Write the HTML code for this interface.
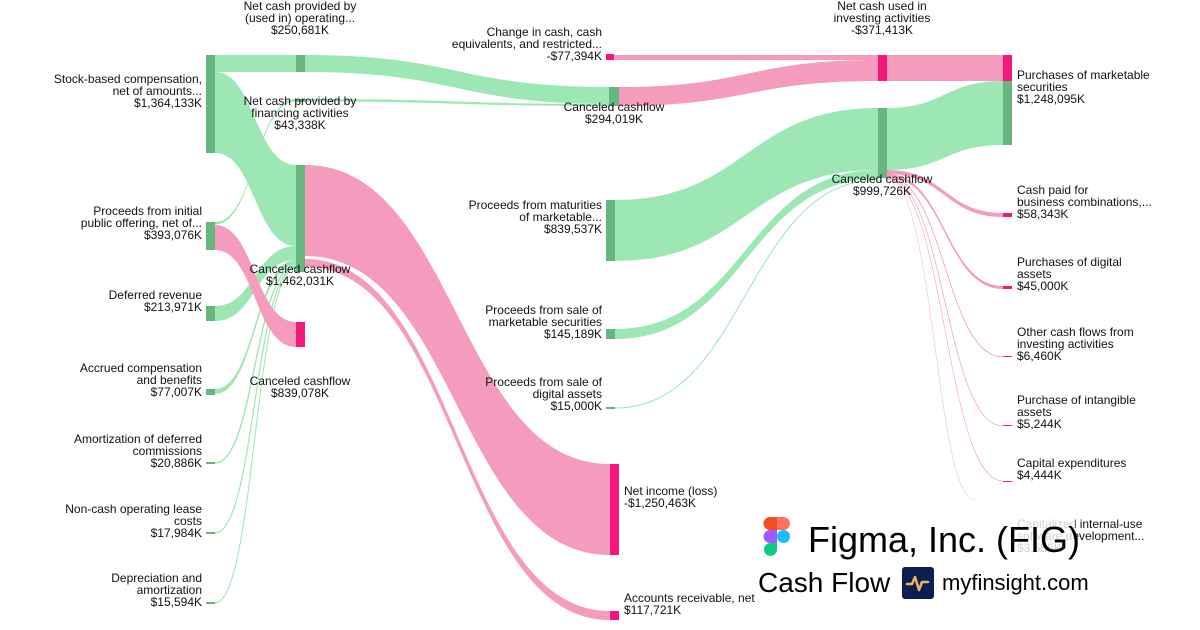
<!DOCTYPE html>
<html><head><meta charset="utf-8"><style>
body{margin:0;width:1200px;height:630px;background:#fff;overflow:hidden}
svg{display:block}
text{font-family:"Liberation Sans",sans-serif;font-size:12px;fill:#111}
.r{text-anchor:end}.m{text-anchor:middle}
</style></head><body>
<svg width="1200" height="630" viewBox="0 0 1200 630">
<g fill="#9ce7b4" stroke="none">
<path d="M215 55 L296 55 L296 72 L215 72Z"/>
<path d="M305 55 C457 55 457 87 609 87 L609 104 C457 104 457 72 305 72Z"/>
<path d="M215 72 C255 72 255 165 296 165 L296 246 C255 246 255 153 215 153Z"/>
<path d="M215 222 C255 222 255 99 296 99 L296 101.5 C255 101.5 255 224.5 215 224.5Z"/>
<path d="M305 99 C457 99 457 104 609 104 L609 106 C457 106 457 101.5 305 101.5Z"/>
<path d="M215 306 C255 306 255 246 296 246 L296 260 C255 260 255 321 215 321Z"/>
<path d="M215 389 C255 389 255 260 296 260 L296 265 C255 265 255 394 215 394Z"/>
<path d="M615 200 C746 200 746 108 878 108 L878 170 C746 170 746 261 615 261Z"/>
<path d="M615 329 C746 329 746 170 878 170 L878 179 C746 179 746 339 615 339Z"/>
<path d="M887 108 C945 108 945 81 1003 81 L1003 145 C945 145 945 170 887 170Z"/>
</g>
<g fill="none" stroke="#9ce7b4">
<path d="M215 463 C255 463 255 266 296 266" stroke-width="1.4"/>
<path d="M215 533 C255 533 255 267 296 267" stroke-width="1.2"/>
<path d="M215 603 C255 603 255 268 296 268" stroke-width="1"/>
<path d="M615 408 C746 408 746 180 878 180" stroke-width="1"/>
</g>
<g fill="#f49bbe">
<path d="M215 225 C255 225 255 322 296 322 L296 347 C255 347 255 250 215 250Z"/>
<path d="M305 165 C457 165 457 464 610 464 L610 555 C457 555 457 256 305 256Z"/>
<path d="M305 259 C457 259 457 611 610 611 L610 620 C457 620 457 267 305 267Z"/>
<path d="M614 55 L878 55 L878 60 L614 60Z"/>
<path d="M619 87 C748 87 748 60 878 60 L878 81 C748 81 748 106 619 106Z"/>
<path d="M887 55 L1003 55 L1003 81 L887 81Z"/>
<path d="M887 170 C945 170 945 213 1003 213 L1003 217 C945 217 945 174 887 174Z"/>
<path d="M887 174 C945 174 945 286 1003 286 L1003 289 C945 289 945 177 887 177Z"/>
</g>
<g fill="none" stroke="#f49bbe">
<path d="M887 177 C945 177 945 357 1003 357" stroke-width="0.8"/>
<path d="M887 178 C945 178 945 426 1003 426" stroke-width="0.7"/>
<path d="M887 179 C945 179 945 481 1003 481" stroke-width="0.6"/>
<path d="M887 179.5 C935 179.5 935 500 975 500" stroke-width="0.4"/>
</g>
<g fill="#66b67e">
<rect x="206" y="55" width="9" height="98"/>
<rect x="206" y="222" width="9" height="28"/>
<rect x="206" y="306" width="9" height="15"/>
<rect x="206" y="389" width="9" height="6"/>
<rect x="206" y="462" width="9" height="2"/>
<rect x="206" y="532" width="9" height="2"/>
<rect x="206" y="602" width="9" height="2"/>
<rect x="296" y="55" width="9" height="17"/>
<rect x="296" y="99" width="9" height="3"/>
<rect x="296" y="165" width="9" height="107"/>
<rect x="609" y="87" width="10" height="19"/>
<rect x="606" y="200" width="9" height="61"/>
<rect x="606" y="329" width="9" height="10"/>
<rect x="606" y="407" width="9" height="2"/>
<rect x="878" y="108" width="9" height="70"/>
<rect x="1003" y="81" width="9" height="64"/>
</g>
<g fill="#f5187a">
<rect x="296" y="322" width="9" height="25"/>
<rect x="606" y="54" width="8" height="6"/>
<rect x="610" y="464" width="9" height="91"/>
<rect x="610" y="611" width="9" height="9"/>
<rect x="878" y="55" width="9" height="26"/>
<rect x="1003" y="55" width="9" height="26"/>
<rect x="1003" y="213" width="9" height="4"/>
<rect x="1003" y="286" width="9" height="3"/>
<rect x="1003" y="356" width="9" height="1"/>
<rect x="1003" y="425" width="9" height="1"/>
<rect x="1003" y="481" width="9" height="1"/>
</g>
<g class="r">
<text x="202" y="83">Stock-based compensation,</text><text x="202" y="95">net of amounts...</text><text x="202" y="107">$1,364,133K</text>
<text x="202" y="215">Proceeds from initial</text><text x="202" y="227">public offering, net of...</text><text x="202" y="239">$393,076K</text>
<text x="202" y="299">Deferred revenue</text><text x="202" y="311">$213,971K</text>
<text x="202" y="372">Accrued compensation</text><text x="202" y="384">and benefits</text><text x="202" y="396">$77,007K</text>
<text x="202" y="443">Amortization of deferred</text><text x="202" y="455">commissions</text><text x="202" y="467">$20,886K</text>
<text x="202" y="513">Non-cash operating lease</text><text x="202" y="525">costs</text><text x="202" y="537">$17,984K</text>
<text x="202" y="582">Depreciation and</text><text x="202" y="594">amortization</text><text x="202" y="606">$15,594K</text>
<text x="602" y="36">Change in cash, cash</text><text x="602" y="48">equivalents, and restricted...</text><text x="602" y="60">-$77,394K</text>
<text x="602" y="209">Proceeds from maturities</text><text x="602" y="221">of marketable...</text><text x="602" y="233">$839,537K</text>
<text x="602" y="314">Proceeds from sale of</text><text x="602" y="326">marketable securities</text><text x="602" y="338">$145,189K</text>
<text x="602" y="386">Proceeds from sale of</text><text x="602" y="398">digital assets</text><text x="602" y="410">$15,000K</text>
</g>
<g class="m">
<text x="300" y="10">Net cash provided by</text><text x="300" y="22">(used in) operating...</text><text x="300" y="34">$250,681K</text>
<text x="300" y="105">Net cash provided by</text><text x="300" y="117">financing activities</text><text x="300" y="129">$43,338K</text>
<text x="300" y="273">Canceled cashflow</text><text x="300" y="285">$1,462,031K</text>
<text x="300" y="385">Canceled cashflow</text><text x="300" y="397">$839,078K</text>
<text x="614" y="111">Canceled cashflow</text><text x="614" y="123">$294,019K</text>
<text x="882" y="10">Net cash used in</text><text x="882" y="22">investing activities</text><text x="882" y="34">-$371,413K</text>
<text x="882" y="183">Canceled cashflow</text><text x="882" y="195">$999,726K</text>
</g>
<g>
<text x="624" y="495">Net income (loss)</text><text x="624" y="507">-$1,250,463K</text>
<text x="624" y="602">Accounts receivable, net</text><text x="624" y="614">$117,721K</text>
<text x="1017" y="79">Purchases of marketable</text><text x="1017" y="91">securities</text><text x="1017" y="103">$1,248,095K</text>
<text x="1017" y="194">Cash paid for</text><text x="1017" y="206">business combinations,...</text><text x="1017" y="218">$58,343K</text>
<text x="1017" y="266">Purchases of digital</text><text x="1017" y="278">assets</text><text x="1017" y="290">$45,000K</text>
<text x="1017" y="336">Other cash flows from</text><text x="1017" y="348">investing activities</text><text x="1017" y="360">$6,460K</text>
<text x="1017" y="404">Purchase of intangible</text><text x="1017" y="416">assets</text><text x="1017" y="428">$5,244K</text>
<text x="1017" y="467">Capital expenditures</text><text x="1017" y="479">$4,444K</text>
<text x="1017" y="528">Capitalized internal-use</text><text x="1017" y="540">software development...</text><text x="1017" y="552">$3,555K</text>
</g>
<rect x="800" y="515" width="275" height="40" fill="#fff" opacity="0.8"/>
<rect x="756" y="563" width="90" height="34" fill="#fff" opacity="0.8"/>
<g>
<path d="M770 517 h7 v13 h-7 a6.5 6.5 0 0 1 0 -13Z" fill="#f24e1e"/>
<path d="M777 517 h6.5 a6.5 6.5 0 0 1 0 13 h-6.5Z" fill="#ff7262"/>
<path d="M770 530 h7 v13 h-7 a6.5 6.5 0 0 1 0 -13Z" fill="#a259ff"/>
<circle cx="783.5" cy="536.5" r="6.5" fill="#1abcfe"/>
<path d="M770 543 h7 v6.5 a6.5 6.5 0 1 1 -7 -6.5Z" fill="#0acf83"/>
</g>
<text x="808" y="552" style="font-size:36px;fill:#000">Figma, Inc. (FIG)</text>
<text x="758" y="592" style="font-size:28px;fill:#000">Cash Flow</text>
<rect x="902" y="567" width="32" height="32" rx="3" fill="#0d1f4f"/>
<path d="M907 584 h5 l3 -7 l4 13 l3 -8 h6" fill="none" stroke="#e8b664" stroke-width="2.5" stroke-linejoin="round" stroke-linecap="round"/>
<text x="942" y="590" style="font-size:22px;fill:#000">myfinsight.com</text>
</svg>
</body></html>
